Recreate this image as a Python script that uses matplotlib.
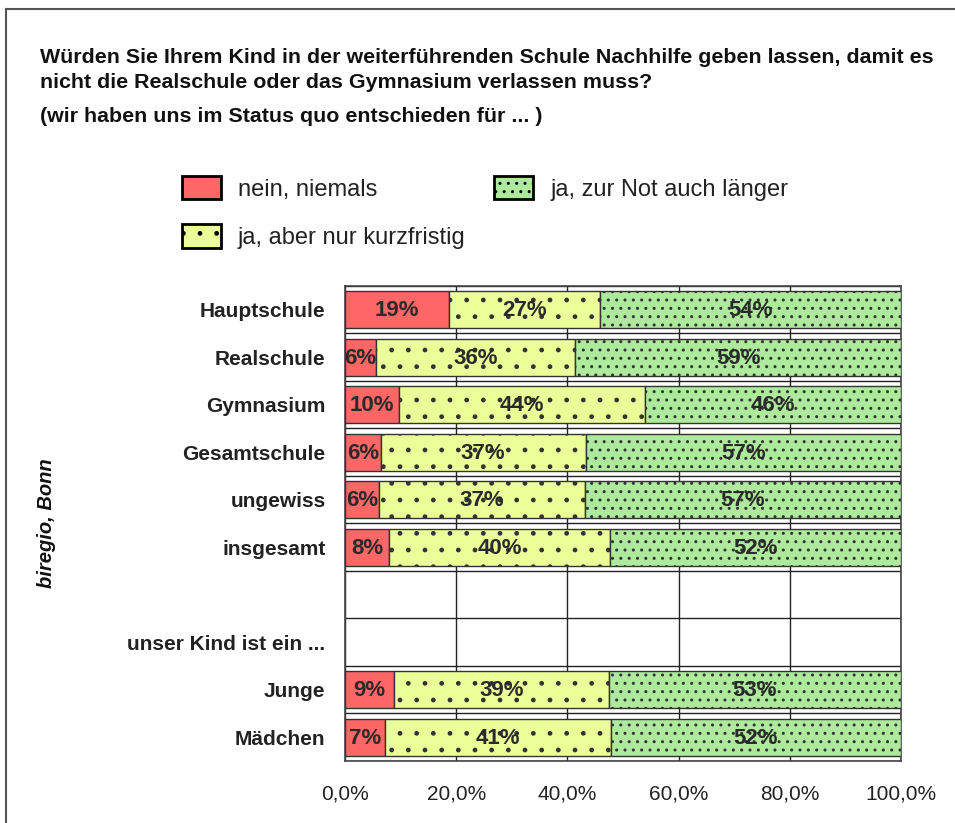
import numpy as np
import matplotlib
matplotlib.use("Agg")
import matplotlib.pyplot as plt
from matplotlib.lines import Line2D

plt.rcParams['font.family'] = ['Liberation Sans', 'DejaVu Sans']
plt.rcParams['hatch.color'] = 'black'

# rows from top to bottom ("" = empty row, header row has no bar)
categories = ["Hauptschule", "Realschule", "Gymnasium", "Gesamtschule", "ungewiss",
              "insgesamt", "", "unser Kind ist ein ...", "Junge", "Mädchen"]
nein = [18.7, 5.6, 9.7, 6.4, 6.1, 7.9, np.nan, np.nan, 8.8, 7.2]
kurz = [27.2, 35.8, 44.3, 36.9, 37.1, 39.8, np.nan, np.nan, 38.6, 40.6]
lang = [54.1, 58.6, 46.0, 56.7, 56.8, 52.3, np.nan, np.nan, 52.6, 52.2]
series_names = ["nein, niemals", "ja, aber nur kurzfristig", "ja, zur Not auch länger"]
xticks = [0, 20, 40, 60, 80, 100]

colors = ['#ff6666', '#ebff99', '#aeea9c']
hatches = [None, '.', '..']

fig = plt.figure(figsize=(9.55, 8.23), dpi=100)
ax = fig.add_axes([345/955, 1-761/823, 556/955, 475/823])

y = np.arange(len(categories))
left = np.zeros(len(categories))
bars = []
for vals, col, h, name in zip([nein, kurz, lang], colors, hatches, series_names):
    vals = np.array(vals, dtype=float)
    ok = ~np.isnan(vals)
    b = ax.barh(y[ok], vals[ok], left=left[ok], height=0.78, color=col,
                edgecolor='#333333', linewidth=1, hatch=h, label=name, zorder=3)
    bars.append(b)
    for yy, lf, v in zip(y[ok], left[ok], vals[ok]):
        ax.text(lf + v/2, yy + 0.02, f"{v:.0f}%", ha='center', va='center',
                fontsize=16, fontweight='bold', color='#2a2a2a', zorder=4)
    left[ok] += vals[ok]

ax.set_xlim(0, 100)
ax.set_ylim(len(categories)-0.5, -0.5)
ax.set_xticks(xticks)
ax.set_xticklabels([f"{t:.1f}%".replace('.', ',') for t in xticks], fontsize=15, color='#222222')
ax.set_yticks(y)
ax.set_yticklabels(categories, fontsize=15, fontweight='bold', color='#222222')
ax.set_yticks(np.arange(len(categories)+1)-0.5, minor=True)
ax.tick_params(axis='x', length=0, pad=17)
ax.tick_params(axis='y', which='both', length=0, pad=14)
ax.grid(axis='x', color='#222222', linewidth=1, zorder=0)
ax.grid(axis='y', which='minor', color='#222222', linewidth=1, zorder=0)
ax.grid(axis='y', which='major', visible=False)
for s in ax.spines.values():
    s.set_color('#444444')
    s.set_linewidth(1.2)

title_kw = dict(fontsize=15.4, fontweight='bold', color='#111111', va='baseline')
fig.text(40/955, 1-63/823, "Würden Sie Ihrem Kind in der weiterführenden Schule Nachhilfe geben lassen, damit es",
         **title_kw)
fig.text(40/955, 1-88/823, "nicht die Realschule oder das Gymnasium verlassen muss?", **title_kw)
fig.text(40/955, 1-122/823, "(wir haben uns im Status quo entschieden für ... )", **title_kw)
fig.text(47/955, 1-523/823, "biregio, Bonn", rotation=90, fontsize=14.5, fontweight='bold',
         fontstyle='italic', ha='center', va='center', color='#111111')

leg = fig.legend(handles=bars, labels=series_names, ncol=2, loc='upper left',
                 bbox_to_anchor=(182/955, 1-176/823), frameon=False, fontsize=17,
                 handlelength=1.65, handleheight=1.15, handletextpad=0.72,
                 columnspacing=1.2, labelspacing=1.0, borderpad=0, borderaxespad=0)
for t in leg.get_texts():
    t.set_color('#222222')
for p in leg.get_patches():
    p.set_linewidth(2)
    p.set_edgecolor('black')

# outer frame (top and left edge)
fig.add_artist(Line2D([6/955, 1], [1-9/823, 1-9/823], color='#555555', linewidth=1.5))
fig.add_artist(Line2D([6/955, 6/955], [0, 1-9/823], color='#555555', linewidth=1.5))

fig.savefig("out.png", dpi=100)
